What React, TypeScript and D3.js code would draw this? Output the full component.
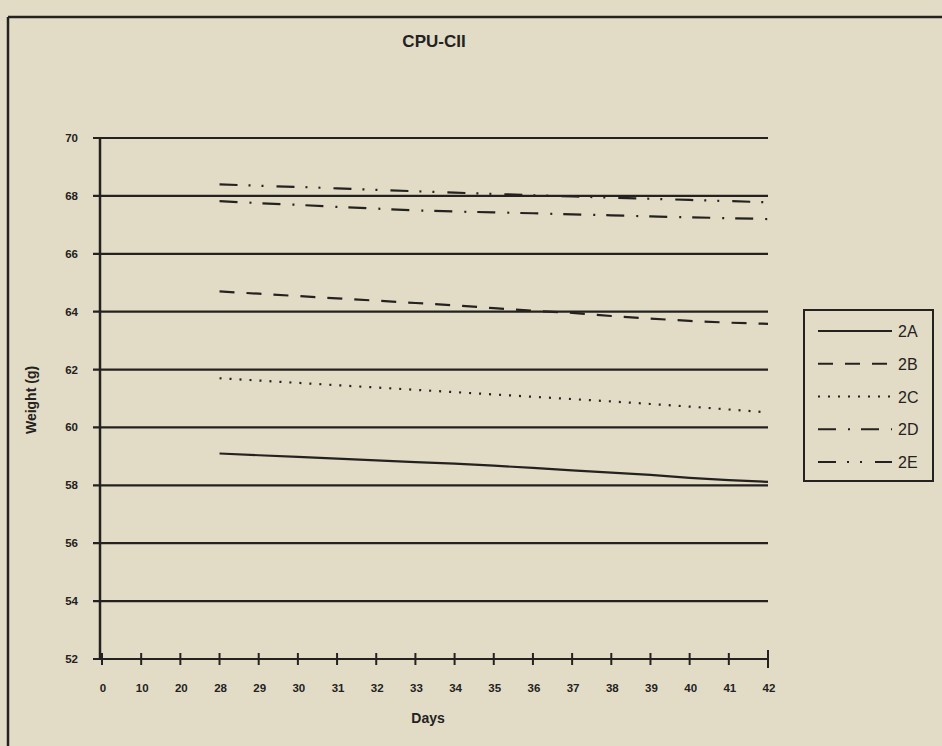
import React from "react";
import * as d3 from "d3";

const dayCategories = ["0","10","20","28","29","30","31","32","33","34","35","36","37","38","39","40","41","42"];
const seriesDays = ["28","29","30","31","32","33","34","35","36","37","38","39","40","41","42"];
const series2A = [59.10, 59.04, 58.98, 58.92, 58.86, 58.80, 58.75, 58.68, 58.60, 58.52, 58.44, 58.36, 58.26, 58.18, 58.12];
const series2B = [64.70, 64.62, 64.54, 64.46, 64.38, 64.30, 64.22, 64.12, 64.03, 63.96, 63.85, 63.76, 63.68, 63.62, 63.58];
const series2C = [61.70, 61.62, 61.54, 61.46, 61.38, 61.30, 61.22, 61.14, 61.06, 60.98, 60.90, 60.81, 60.72, 60.62, 60.52];
const series2D = [67.82, 67.75, 67.69, 67.62, 67.56, 67.50, 67.46, 67.43, 67.40, 67.36, 67.33, 67.29, 67.26, 67.23, 67.20];
const series2E = [68.40, 68.35, 68.31, 68.26, 68.21, 68.16, 68.11, 68.07, 68.02, 67.98, 67.94, 67.90, 67.86, 67.82, 67.78];
const seriesNames = ["2A", "2B", "2C", "2D", "2E"];
const yTicks = [52, 54, 56, 58, 60, 62, 64, 66, 68, 70];

const dashes: Record<string, string> = {
  "2A": "none",
  "2B": "15,12",
  "2C": "2,8",
  "2D": "18,12,2,11",
  "2E": "18,11,2,11,2,13",
};

export default function App() {
  const W = 942, H = 746;
  const ink = "#242220";
  const bg = "#e2dcc6";
  const font = "'Liberation Sans', Arial, Helvetica, sans-serif";

  const x = d3.scalePoint<string>().domain(dayCategories).range([102, 768]).padding(0);
  const y = d3.scaleLinear().domain([52, 70]).range([659, 138]);

  const allSeries = [series2A, series2B, series2C, series2D, series2E];
  const line = d3
    .line<number>()
    .x((_, i) => x(seriesDays[i]) as number)
    .y((d) => y(d));

  const legX = 804, legY = 310, legW = 129, legH = 171;
  const rowY = d3.scalePoint<string>().domain(seriesNames).range([legY + 21, legY + 152]);

  return (
    <svg
      width={W}
      height={H}
      style={{ position: "absolute", left: 0, top: 0, background: bg }}
      fontFamily={font}
    >
      <rect x={0} y={0} width={W} height={H} fill={bg} />
      {/* outer frame */}
      <line x1={8} y1={17} x2={W} y2={17} stroke={ink} strokeWidth={2.5} />
      <line x1={8} y1={17} x2={8} y2={H} stroke={ink} strokeWidth={2.5} />

      <text x={434} y={47} textAnchor="middle" fontSize={17} fontWeight="bold" fill={ink}>
        CPU-CII
      </text>

      {/* gridlines */}
      {yTicks.map((t) => (
        <g key={t}>
          <line x1={93} x2={768} y1={y(t)} y2={y(t)} stroke={ink} strokeWidth={2.2} />
          <text x={78} y={y(t) + 4} textAnchor="end" fontSize={11.5} fontWeight="bold" fill={ink}>
            {t}
          </text>
        </g>
      ))}
      {/* y axis */}
      <line x1={100} x2={100} y1={y(70)} y2={y(52) + 1} stroke={ink} strokeWidth={2.5} />

      {/* x ticks */}
      {dayCategories.map((c, i) => (
        <g key={c}>
          <line
            x1={x(c)}
            x2={x(c)}
            y1={y(52) - (i === dayCategories.length - 1 ? 9 : 6)}
            y2={y(52) + (i === dayCategories.length - 1 ? 9 : 6)}
            stroke={ink}
            strokeWidth={2}
          />
          <text x={(x(c) as number) + 1} y={y(52) + 33} textAnchor="middle" fontSize={11.5} fontWeight="bold" fill={ink}>
            {c}
          </text>
        </g>
      ))}

      <text x={428} y={723} textAnchor="middle" fontSize={14} fontWeight="bold" fill={ink}>
        Days
      </text>
      <text
        transform={`translate(36,400) rotate(-90)`}
        textAnchor="middle"
        fontSize={14}
        fontWeight="bold"
        fill={ink}
      >
        Weight (g)
      </text>

      {/* series */}
      {allSeries.map((s, k) => (
        <path
          key={seriesNames[k]}
          d={line(s) as string}
          fill="none"
          stroke={ink}
          strokeWidth={2.2}
          strokeDasharray={dashes[seriesNames[k]]}
        />
      ))}

      {/* legend */}
      <rect x={legX} y={legY} width={legW} height={legH} fill="none" stroke={ink} strokeWidth={2} />
      {seriesNames.map((n) => (
        <g key={n}>
          <line
            x1={818}
            x2={892}
            y1={rowY(n)}
            y2={rowY(n)}
            stroke={ink}
            strokeWidth={2}
            strokeDasharray={dashes[n]}
          />
          <text x={898} y={(rowY(n) as number) + 6} fontSize={16} fill={ink}>
            {n}
          </text>
        </g>
      ))}
    </svg>
  );
}
